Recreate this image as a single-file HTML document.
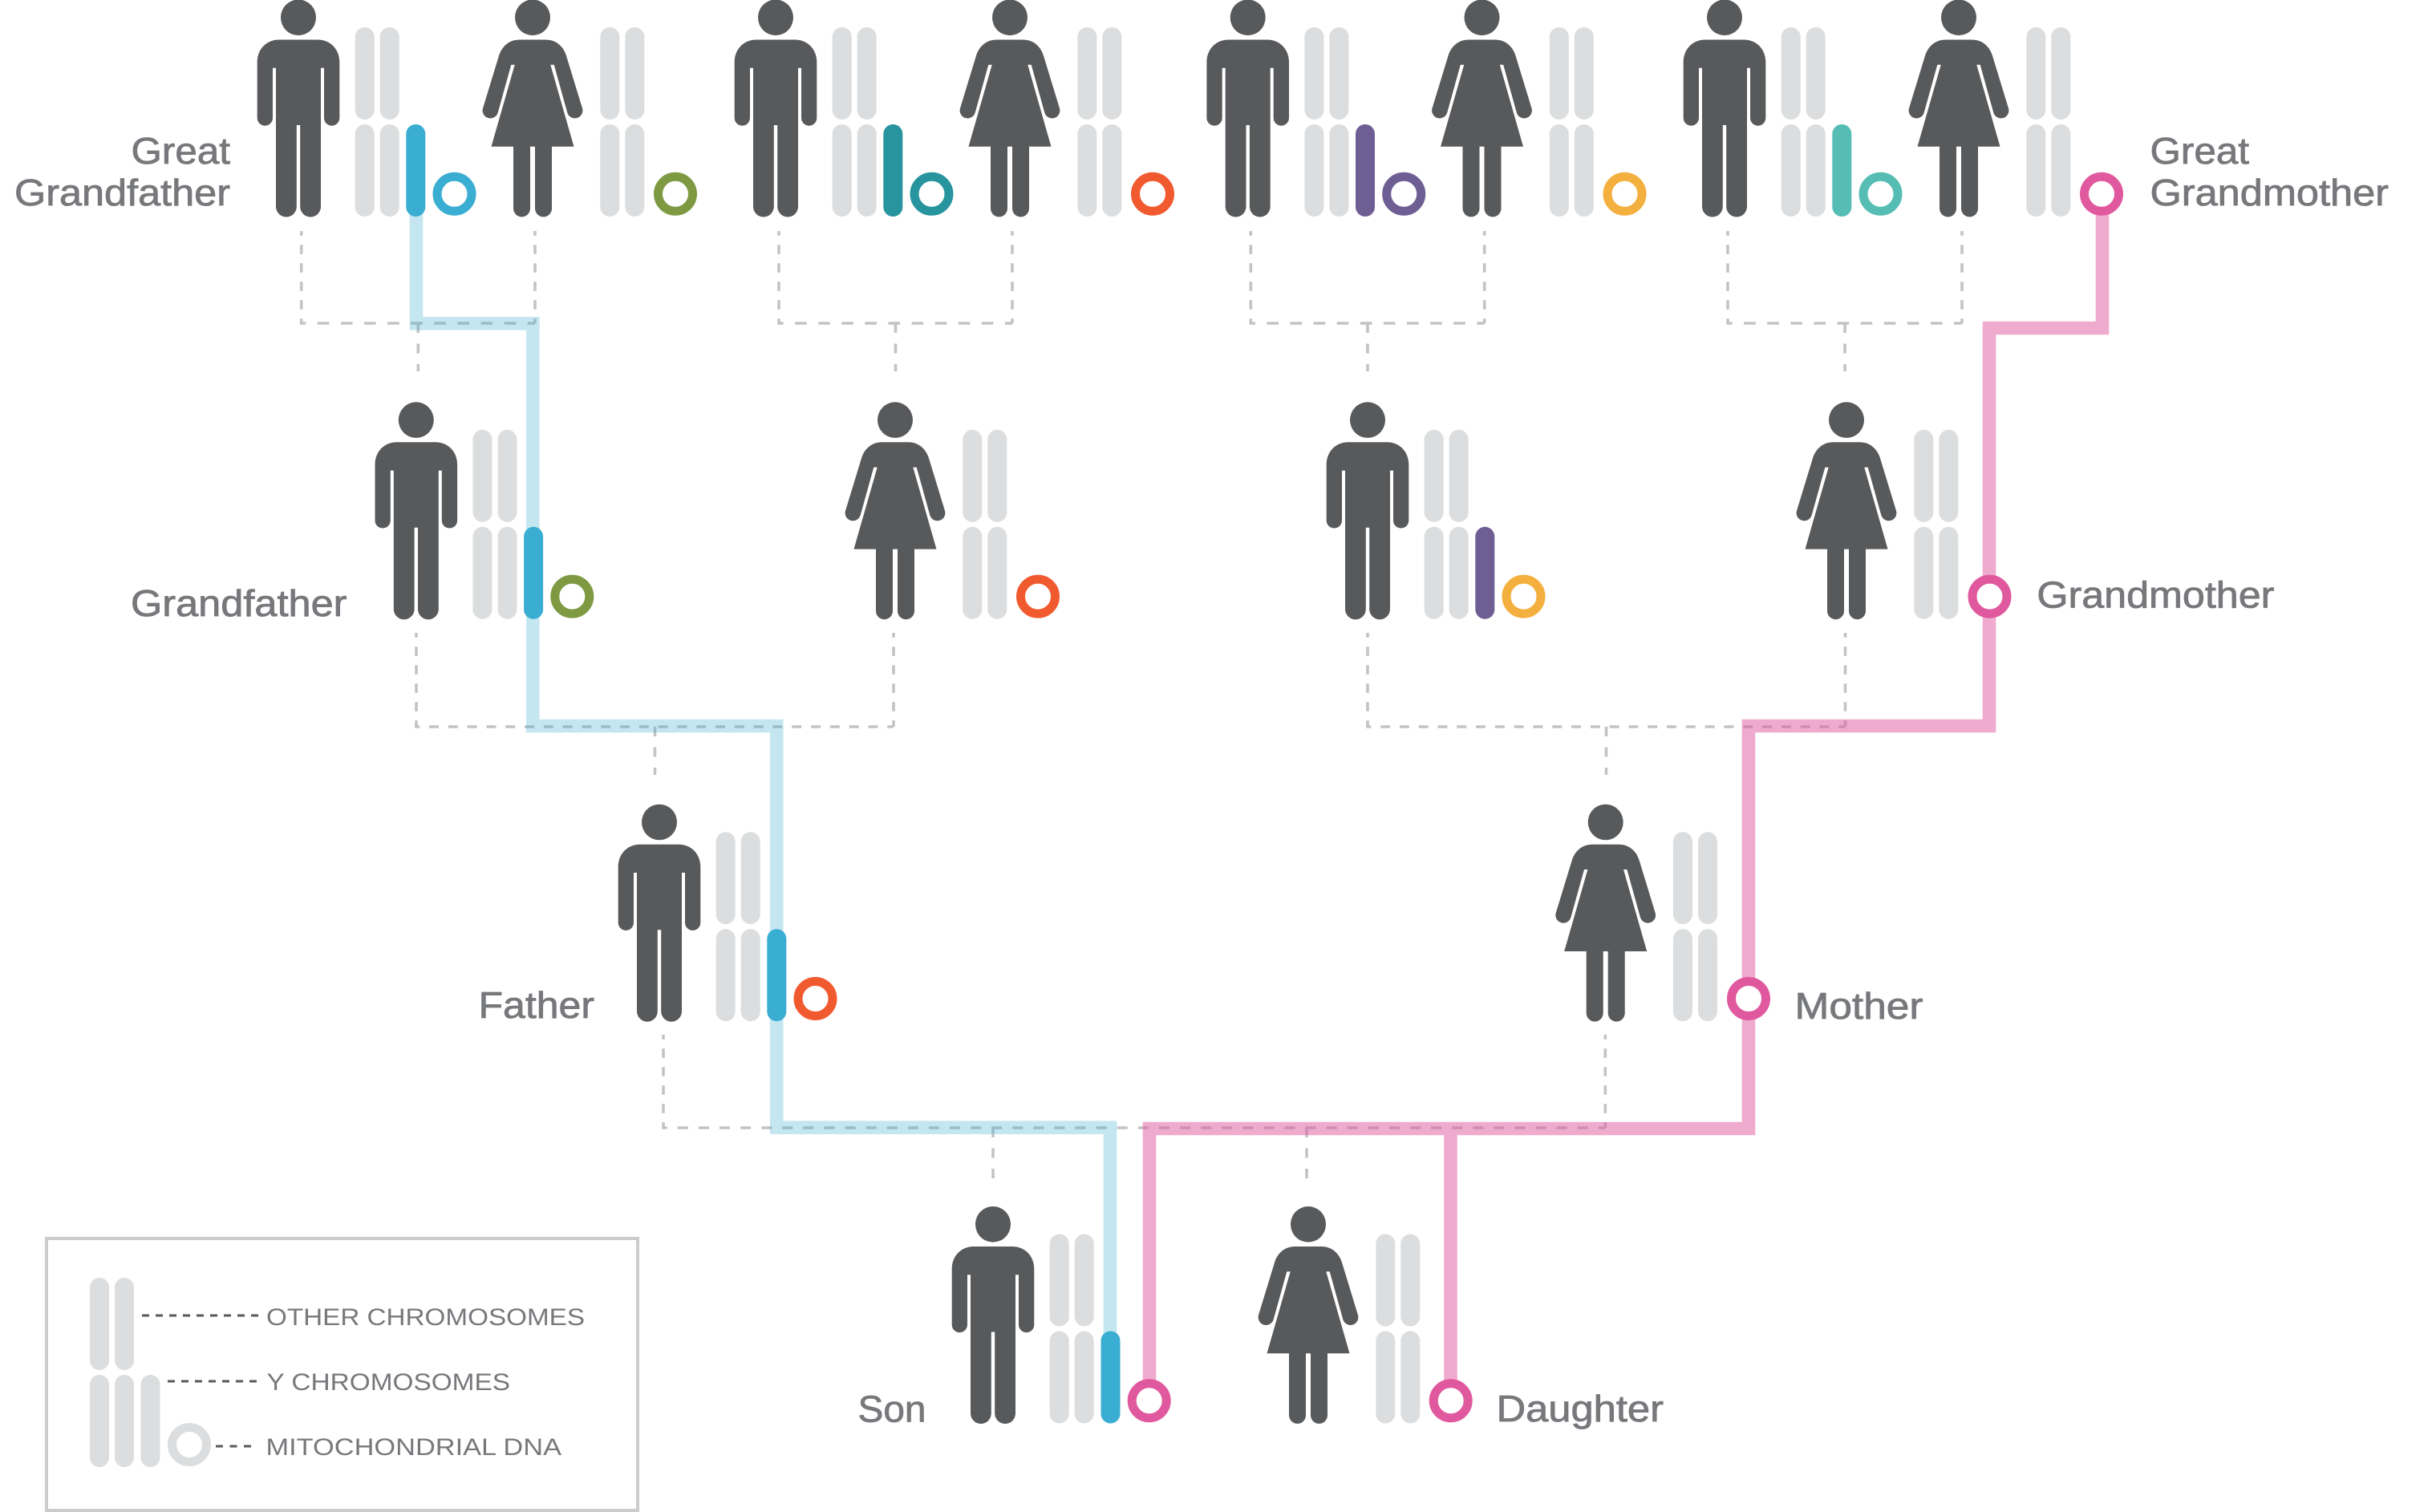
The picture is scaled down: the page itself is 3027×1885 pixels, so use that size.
<!DOCTYPE html>
<html><head><meta charset="utf-8"><style>
html,body{margin:0;padding:0;background:#fff}
svg{display:block}
text{font-family:"Liberation Sans",sans-serif;fill:#77787b}
.l{font-size:46px;stroke:#77787b;stroke-width:.8}
.k{font-size:30px}
.d{fill:none;stroke:#c2c3c5;stroke-width:3.6}
</style></head><body>
<svg xmlns="http://www.w3.org/2000/svg" width="3027" height="1885" viewBox="0 0 3027 1885">
<defs>
<g id="m">
<ellipse cx="0" cy="22.3" rx="22" ry="22.3" fill="#58595b"/>
<path fill="#58595b" d="M-24 50H24C40 50 51.3 62 51.3 78V147.6A9.65 9.65 0 0 1 32 147.6V85.3H28V258.1A12.9 12.9 0 0 1 2.2 258.1V156.5H-2.2V258.1A12.9 12.9 0 0 1 -28 258.1V85.3H-32V147.6A9.65 9.65 0 0 1 -51.3 147.6V78C-51.3 62 -40 50 -24 50Z"/>
<g fill="#dcddde"><rect x="70.7" y="34.5" width="24" height="115" rx="12"/><rect x="101.7" y="34.5" width="24" height="115" rx="12"/><rect x="70.7" y="155.5" width="24" height="115" rx="12"/><rect x="101.7" y="155.5" width="24" height="115" rx="12"/></g>
</g>
<g id="w">
<ellipse cx="0" cy="22.3" rx="22" ry="22.3" fill="#58595b"/>
<path fill="#58595b" d="M-16.5 50H16.5C28 50 38 57 42 70L62 135.5A9.7 9.7 0 0 1 43.3 141L26.7 81.3H22.3L51.5 183.3H24V260.4A10.5 10.5 0 0 1 3 260.4V183.3H-3V260.4A10.5 10.5 0 0 1 -24 260.4V183.3H-51.5L-22.3 81.3H-26.7L-43.3 141A9.7 9.7 0 0 1 -62 135.5L-42 70C-38 57 -28 50 -16.5 50Z"/>
<g fill="#dcddde"><rect x="84.3" y="34.5" width="24" height="115" rx="12"/><rect x="115.3" y="34.5" width="24" height="115" rx="12"/><rect x="84.3" y="155.5" width="24" height="115" rx="12"/><rect x="115.3" y="155.5" width="24" height="115" rx="12"/></g>
</g>
</defs>

<!-- dashed -->
<g class="d">
<g stroke-dasharray="11.6 11.4" stroke-dashoffset="5.8">
<path d="M375.7 288V403M667 288V403"/><path d="M971 288V403M1262 288V403"/><path d="M1559.3 288V403M1850.7 288V403"/><path d="M2154 288V403M2446 288V403"/>
<path d="M519 789V906M1114 789V906M1705 789V906M2300.5 789V906"/>
<path d="M827 1290V1406M2001.3 1290V1406"/>
</g>
<g stroke-dasharray="14.6 14.5" stroke-dashoffset="7.3">
<path d="M374 403H667"/><path d="M969.3 403H1262"/><path d="M1557.6 403H1850.7"/><path d="M2152.3 403H2446"/>
</g>
<g stroke-dasharray="11.9 11.9" stroke-dashoffset="6">
<path d="M517.3 906H1114"/><path d="M1703.3 906H2300.5"/>
</g>
<path d="M825.3 1406H2001.3" stroke-dasharray="13 13.09" stroke-dashoffset="6.5"/>
<g stroke-dasharray="12 13.5">
<path d="M521.3 403V463M1116.5 403V463M1705 403V463M2300 403V463"/>
<path d="M816.5 906V966M2002.5 906V966"/>
<path d="M1238 1406V1471M1629 1406V1474"/>
</g>
</g>

<!-- inheritance lines -->
<path opacity=".3" fill="none" stroke="#3aadd2" stroke-width="16.6" d="M519 230V403.3H664.3V905H968.2V1405.7H1384V1680"/>
<path opacity=".5" fill="none" stroke="#e0589e" stroke-width="16.6" d="M2621 240V409H2480V905H2180V1407H1433V1745M1808.5 1407V1745"/>

<!-- row 1 -->
<use href="#m" transform="translate(372,-.5)"/><use href="#w" transform="translate(664,-.5)"/>
<use href="#m" transform="translate(967,-.5)"/><use href="#w" transform="translate(1259,-.5)"/>
<use href="#m" transform="translate(1555.7,-.5)"/><use href="#w" transform="translate(1847.5,-.5)"/>
<use href="#m" transform="translate(2150,-.5)"/><use href="#w" transform="translate(2442,-.5)"/>
<!-- row 2 -->
<use href="#m" transform="translate(518.8,501.3)"/><use href="#w" transform="translate(1116,501.3)"/>
<use href="#m" transform="translate(1705,501.3)"/><use href="#w" transform="translate(2302,501.3)"/>
<!-- row 3 -->
<use href="#m" transform="translate(822,1002.7)"/><use href="#w" transform="translate(2001.7,1002.7)"/>
<!-- row 4 -->
<use href="#m" transform="translate(1238,1504)"/><use href="#w" transform="translate(1631,1504)"/>

<!-- Y chromosomes -->
<rect x="506.3" y="155" width="24" height="115" rx="12" fill="#3aadd2"/>
<rect x="1101.3" y="155" width="24" height="115" rx="12" fill="#27949e"/>
<rect x="1690" y="155" width="24" height="115" rx="12" fill="#6f5e94"/>
<rect x="2284.3" y="155" width="24" height="115" rx="12" fill="#55bdb4"/>
<rect x="653.1" y="656.8" width="24" height="115" rx="12" fill="#3aadd2"/>
<rect x="1839.3" y="656.8" width="24" height="115" rx="12" fill="#6f5e94"/>
<rect x="956.3" y="1158.2" width="24" height="115" rx="12" fill="#3aadd2"/>
<rect x="1372.5" y="1659.5" width="24" height="115" rx="12" fill="#3aadd2"/>

<!-- mitochondrial rings -->
<g fill="#fff" stroke-width="11">
<circle cx="566.5" cy="241.8" r="21.5" stroke="#3aadd2"/>
<circle cx="842" cy="241.8" r="21.5" stroke="#7d9a43"/>
<circle cx="1161.5" cy="241.8" r="21.5" stroke="#27949e"/>
<circle cx="1437" cy="241.8" r="21.5" stroke="#f15a2f"/>
<circle cx="1750.2" cy="241.8" r="21.5" stroke="#6f5e94"/>
<circle cx="2025.5" cy="241.8" r="21.5" stroke="#f4b03e"/>
<circle cx="2344.5" cy="241.8" r="21.5" stroke="#55bdb4"/>
<circle cx="2620" cy="241.8" r="21.5" stroke="#e0589e"/>
<circle cx="713.3" cy="743.6" r="21.5" stroke="#7d9a43"/>
<circle cx="1294" cy="743.6" r="21.5" stroke="#f15a2f"/>
<circle cx="1899.5" cy="743.6" r="21.5" stroke="#f4b03e"/>
<circle cx="2480.5" cy="743.6" r="21.5" stroke="#e0589e"/>
<circle cx="1016.5" cy="1245" r="21.5" stroke="#f15a2f"/>
<circle cx="2180" cy="1245" r="21.5" stroke="#e0589e"/>
<circle cx="1432.7" cy="1746.3" r="21.5" stroke="#e0589e"/>
<circle cx="1808.7" cy="1746.3" r="21.5" stroke="#e0589e"/>
</g>

<!-- labels -->
<text class="l" x="163.5" y="204" textLength="123.5" lengthAdjust="spacingAndGlyphs">Great</text>
<text class="l" x="18" y="256" textLength="269" lengthAdjust="spacingAndGlyphs">Grandfather</text>
<text class="l" x="2680.5" y="204" textLength="123.5" lengthAdjust="spacingAndGlyphs">Great</text>
<text class="l" x="2680.5" y="256" textLength="297.5" lengthAdjust="spacingAndGlyphs">Grandmother</text>
<text class="l" x="163" y="768" textLength="269.5" lengthAdjust="spacingAndGlyphs">Grandfather</text>
<text class="l" x="2539.4" y="757.7" textLength="296" lengthAdjust="spacingAndGlyphs">Grandmother</text>
<text class="l" x="596.5" y="1269" textLength="144.5" lengthAdjust="spacingAndGlyphs">Father</text>
<text class="l" x="2237.5" y="1270" textLength="160" lengthAdjust="spacingAndGlyphs">Mother</text>
<text class="l" x="1069.5" y="1772.3" textLength="85" lengthAdjust="spacingAndGlyphs">Son</text>
<text class="l" x="1865.5" y="1772" textLength="208.5" lengthAdjust="spacingAndGlyphs">Daughter</text>

<!-- legend -->
<rect x="58" y="1544" width="737" height="339" fill="#fff" stroke="#cbcccd" stroke-width="4"/>
<g fill="#dcddde">
<rect x="112" y="1593" width="24" height="115" rx="12"/><rect x="143" y="1593" width="24" height="115" rx="12"/>
<rect x="112" y="1714" width="24" height="115" rx="12"/><rect x="143" y="1714" width="24" height="115" rx="12"/><rect x="175.5" y="1714" width="24" height="115" rx="12"/>
</g>
<circle cx="236" cy="1801" r="21.5" fill="#fff" stroke="#dcddde" stroke-width="11"/>
<g stroke="#58595b" stroke-width="3" fill="none">
<path d="M177 1640H322" stroke-dasharray="9 8"/><path d="M209 1722H322" stroke-dasharray="9 8"/><path d="M269 1803H313" stroke-dasharray="9 8.5"/>
</g>
<text class="k" x="332" y="1652" textLength="397" lengthAdjust="spacingAndGlyphs">OTHER CHROMOSOMES</text>
<text class="k" x="332.5" y="1733" textLength="303.5" lengthAdjust="spacingAndGlyphs">Y CHROMOSOMES</text>
<text class="k" x="331.5" y="1814" textLength="368.5" lengthAdjust="spacingAndGlyphs">MITOCHONDRIAL DNA</text>
</svg>
</body></html>
